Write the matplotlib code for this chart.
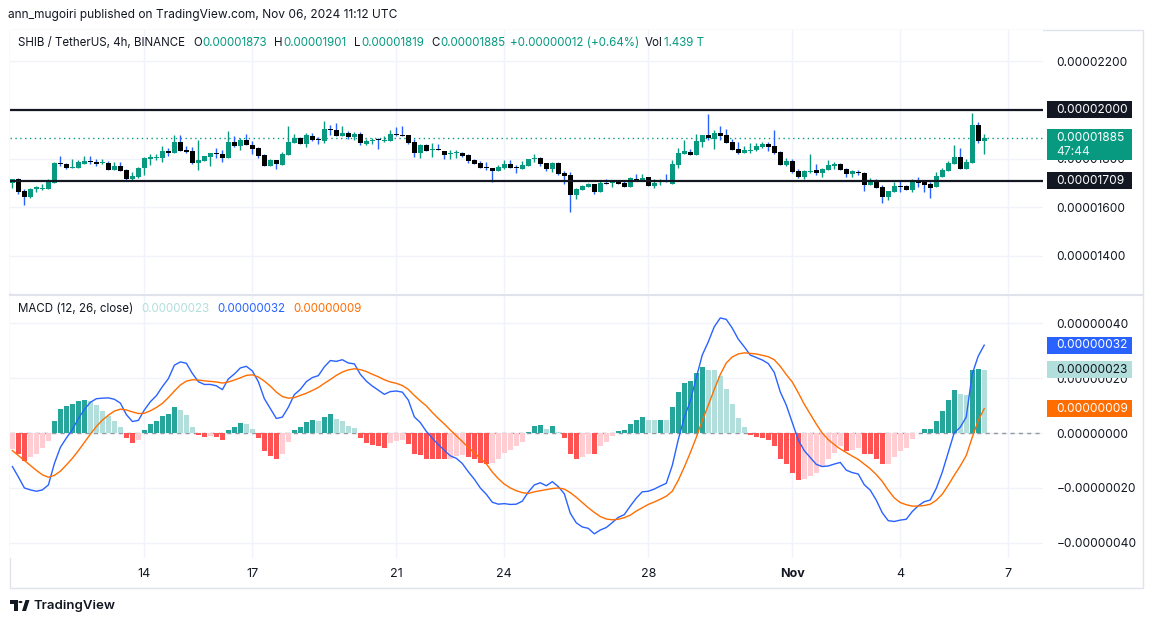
import numpy as np
import pandas as pd
import matplotlib
matplotlib.use('Agg')
import matplotlib.pyplot as plt
from matplotlib.patches import Rectangle, Polygon, Circle
from matplotlib.lines import Line2D
from matplotlib.ticker import FuncFormatter

plt.rcParams['font.family'] = ['Inter', 'DejaVu Sans']

W, H = 1154, 622
P = 1e-8  # all values below are in units of 1e-8 USDT

# SHIB / TetherUS 4h candles, first candle 2024-10-10 08:00
opens = [1701, 1715, 1667, 1644, 1676, 1675, 1676, 1701, 1783, 1778, 1763, 1763, 1779, 1790, 1786, 1781,
         1782, 1753, 1768, 1752, 1716, 1724, 1761, 1797, 1801, 1803, 1833, 1824, 1868, 1835, 1831, 1783,
         1790, 1808, 1824, 1819, 1804, 1868, 1853, 1876, 1855, 1844, 1815, 1771, 1794, 1774, 1815, 1866,
         1883, 1861, 1894, 1881, 1872, 1922, 1918, 1894, 1905, 1890, 1901, 1860, 1874, 1878, 1872, 1874,
         1901, 1897, 1897, 1868, 1824, 1856, 1835, 1838, 1831, 1819, 1822, 1823, 1815, 1794, 1782, 1765,
         1761, 1750, 1763, 1778, 1767, 1757, 1770, 1797, 1803, 1782, 1757, 1782, 1741, 1733, 1652, 1671,
         1683, 1696, 1664, 1700, 1701, 1705, 1700, 1685, 1715, 1709, 1723, 1689, 1702, 1708, 1696, 1775,
         1820, 1827, 1816, 1870, 1897, 1882, 1905, 1897, 1868, 1838, 1824, 1831, 1835, 1849, 1860, 1852,
         1827, 1774, 1790, 1749, 1723, 1746, 1753, 1742, 1753, 1770, 1778, 1757, 1738, 1746, 1741, 1692,
         1708, 1683, 1642, 1664, 1687, 1687, 1671, 1705, 1704, 1696, 1683, 1726, 1750, 1779, 1807, 1757,
         1783, 1938, 1873]
highs = [1716, 1719, 1675, 1678, 1689, 1694, 1715, 1787, 1811, 1783, 1797, 1794, 1811, 1811, 1797, 1797,
         1790, 1786, 1786, 1759, 1745, 1764, 1805, 1819, 1818, 1852, 1842, 1897, 1897, 1852, 1849, 1878,
         1811, 1823, 1845, 1835, 1913, 1893, 1883, 1901, 1872, 1849, 1819, 1797, 1794, 1827, 1934, 1900,
         1887, 1904, 1907, 1887, 1955, 1938, 1946, 1934, 1913, 1908, 1908, 1879, 1886, 1886, 1894, 1918,
         1931, 1934, 1897, 1881, 1860, 1860, 1863, 1860, 1831, 1834, 1835, 1829, 1818, 1797, 1792, 1787,
         1761, 1774, 1794, 1794, 1774, 1790, 1797, 1819, 1807, 1782, 1787, 1787, 1749, 1746, 1678, 1693,
         1701, 1696, 1708, 1716, 1712, 1712, 1707, 1723, 1737, 1737, 1723, 1716, 1716, 1737, 1794, 1842,
         1876, 1838, 1902, 1897, 1983, 1918, 1934, 1922, 1881, 1868, 1853, 1864, 1864, 1870, 1867, 1918,
         1830, 1801, 1797, 1757, 1755, 1819, 1778, 1763, 1794, 1787, 1782, 1763, 1753, 1753, 1745, 1719,
         1716, 1692, 1668, 1705, 1712, 1692, 1716, 1724, 1712, 1705, 1745, 1763, 1790, 1856, 1844, 1798,
         1987, 1950, 1901]
lows = [1681, 1653, 1607, 1639, 1664, 1671, 1676, 1701, 1771, 1757, 1763, 1763, 1779, 1778, 1771, 1779,
        1753, 1753, 1749, 1708, 1712, 1722, 1733, 1774, 1794, 1787, 1812, 1824, 1831, 1822, 1779, 1753,
        1790, 1770, 1801, 1786, 1804, 1849, 1835, 1856, 1819, 1801, 1770, 1771, 1757, 1774, 1815, 1866,
        1861, 1849, 1874, 1860, 1866, 1897, 1893, 1894, 1882, 1876, 1857, 1856, 1860, 1840, 1867, 1874,
        1892, 1894, 1859, 1808, 1804, 1833, 1808, 1834, 1798, 1797, 1804, 1808, 1783, 1779, 1763, 1753,
        1705, 1750, 1756, 1763, 1742, 1757, 1770, 1787, 1771, 1749, 1746, 1733, 1696, 1582, 1634, 1671,
        1683, 1655, 1664, 1697, 1683, 1697, 1685, 1685, 1708, 1709, 1689, 1681, 1693, 1702, 1696, 1761,
        1820, 1816, 1816, 1849, 1876, 1841, 1876, 1866, 1837, 1820, 1824, 1824, 1831, 1845, 1831, 1820,
        1774, 1770, 1741, 1722, 1718, 1739, 1733, 1724, 1753, 1756, 1755, 1726, 1726, 1733, 1668, 1692,
        1681, 1619, 1630, 1664, 1664, 1671, 1664, 1685, 1664, 1639, 1683, 1723, 1750, 1779, 1757, 1757,
        1783, 1863, 1819]
closes = [1715, 1664, 1644, 1675, 1682, 1679, 1704, 1783, 1779, 1763, 1767, 1786, 1790, 1787, 1779, 1783,
          1753, 1768, 1749, 1718, 1729, 1760, 1801, 1805, 1805, 1831, 1824, 1868, 1831, 1829, 1783, 1794,
          1811, 1823, 1818, 1804, 1868, 1853, 1876, 1856, 1841, 1812, 1770, 1794, 1778, 1819, 1868, 1883,
          1861, 1897, 1878, 1876, 1920, 1919, 1893, 1905, 1890, 1901, 1866, 1874, 1876, 1875, 1876, 1901,
          1898, 1894, 1866, 1824, 1856, 1833, 1840, 1834, 1816, 1823, 1826, 1812, 1792, 1779, 1763, 1763,
          1750, 1765, 1778, 1763, 1763, 1774, 1797, 1803, 1779, 1757, 1782, 1737, 1729, 1652, 1675, 1687,
          1696, 1664, 1700, 1697, 1705, 1697, 1685, 1720, 1711, 1720, 1689, 1700, 1708, 1702, 1778, 1823,
          1831, 1816, 1872, 1897, 1883, 1905, 1894, 1866, 1837, 1824, 1835, 1835, 1852, 1860, 1849, 1823,
          1774, 1790, 1745, 1726, 1749, 1750, 1742, 1759, 1774, 1778, 1755, 1738, 1748, 1742, 1692, 1709,
          1681, 1644, 1668, 1687, 1685, 1671, 1704, 1701, 1693, 1681, 1727, 1753, 1782, 1807, 1757, 1787,
          1938, 1873, 1885]

# MACD (12, 26, close): histogram and signal line
macd_hist = [-5.8, -7.8, -10.0, -8.9, -7.6, -5.5, -2.8, 4.3, 8.7, 9.8, 10.5, 11.7, 12.0, 11.6, 10.1, 8.0,
             6.3, 4.3, 2.2, -1.7, -3.5, -2.5, 1.2, 3.3, 4.3, 6.1, 6.9, 9.4, 8.4, 6.5, 2.3, -0.6,
             -1.3, -1.1, -1.4, -2.4, 1.1, 2.2, 3.6, 3.3, 1.4, -1.7, -6.4, -8.2, -9.6, -7.5, -3.3, 1.1,
             2.2, 4.2, 4.7, 4.3, 6.0, 6.9, 5.1, 4.5, 2.5, 1.8, -1.7, -3.5, -4.3, -4.9, -5.3, -3.5,
             -2.8, -2.4, -3.9, -7.8, -7.9, -9.3, -9.4, -9.5, -9.6, -9.4, -8.2, -8.0, -8.9, -9.6, -10.8, -11.1,
             -11.0, -9.3, -7.1, -6.0, -4.9, -3.1, 0.5, 2.5, 2.9, 1.4, 2.5, 0.5, -1.7, -7.5, -9.3, -8.9,
             -7.5, -7.8, -4.9, -3.1, -1.0, 0.7, 1.1, 3.3, 4.7, 5.8, 4.8, 4.7, 4.8, 4.7, 9.4, 14.8,
             18.1, 18.8, 21.7, 23.9, 23.1, 22.8, 20.6, 15.9, 10.5, 5.4, 2.2, -0.6, -1.3, -1.7, -2.5, -4.6,
             -9.3, -11.1, -14.7, -17.2, -16.9, -15.8, -14.7, -12.2, -9.6, -7.1, -4.9, -6.4, -6.0, -5.3, -7.5, -7.8,
             -9.3, -11.4, -11.1, -8.6, -6.4, -5.3, -2.0, 0.1, 1.4, 1.5, 4.3, 8.0, 11.9, 15.5, 14.1, 14.0,
             23.1, 23.5, 23.1]
macd_signal = [-6.4, -8.2, -10.0, -11.8, -13.6, -15.2, -16.1, -15.4, -13.9, -11.6, -9.2, -6.4, -3.4, -0.4, 2.4, 4.7,
               6.5, 8.0, 8.7, 8.4, 7.7, 7.1, 7.2, 8.1, 9.3, 10.8, 12.9, 15.3, 17.5, 18.9, 19.4, 19.3,
               19.0, 18.8, 18.6, 18.2, 18.6, 19.3, 20.1, 21.0, 21.2, 20.4, 18.9, 17.1, 14.9, 13.3, 12.7, 12.9,
               13.7, 14.5, 15.5, 16.6, 18.1, 19.5, 21.0, 22.2, 23.0, 23.4, 23.1, 22.4, 21.4, 20.5, 19.4, 18.6,
               18.1, 17.3, 15.9, 13.7, 11.7, 9.9, 7.5, 5.3, 3.3, 1.1, -1.0, -3.1, -5.2, -7.2, -9.2, -11.2,
               -14.2, -16.6, -18.6, -20.0, -21.0, -21.7, -22.0, -21.4, -21.0, -20.6, -20.2, -20.0, -20.4, -21.7, -23.4, -25.3,
               -27.2, -28.9, -30.4, -31.3, -31.6, -31.4, -30.8, -29.9, -28.4, -27.2, -26.0, -25.1, -24.1, -23.0, -21.2, -17.2,
               -12.4, -7.2, -1.6, 4.5, 10.1, 15.9, 21.3, 25.5, 27.7, 28.8, 29.2, 29.0, 28.8, 28.3, 27.8, 26.7,
               24.3, 21.3, 18.6, 14.7, 10.5, 6.9, 3.3, 0.0, -2.4, -4.2, -5.8, -7.1, -8.4, -9.6, -11.3, -13.0,
               -15.1, -17.6, -20.8, -23.6, -25.3, -26.1, -26.6, -26.6, -26.4, -25.9, -24.5, -22.3, -19.0, -15.4, -12.0, -8.2,
               -1.6, 4.5, 8.9]

# horizontal levels drawn on the chart
levels = [2000, 1709]
volume_label = '1.439 T'
countdown = '47:44'

tick_days = ['2024-10-14', '2024-10-17', '2024-10-21', '2024-10-24', '2024-10-28', '2024-11-01', '2024-11-04', '2024-11-07']
tick_names = ['14', '17', '21', '24', '28', 'Nov', '4', '7']

DARK = '#131722'
GREEN = '#089981'
BLUE = '#2962ff'
ORANGE = '#ff6d00'
GRID = '#f0f3fa'
FRAME = '#e0e3eb'
FS = 8.6   # price scale font size
LFS = 8.3  # legend font size

o = np.array(opens) * P
h = np.array(highs) * P
l = np.array(lows) * P
c = np.array(closes) * P
hist = np.array(macd_hist) * P
signal = np.array(macd_signal) * P
macd = signal + hist

n = len(o)
times = pd.date_range('2024-10-10 08:00', periods=n, freq='4h')
x = np.arange(n)
tick_pos = [(pd.Timestamp(d) - times[0]) / pd.Timedelta('4h') for d in tick_days]

fig = plt.figure(figsize=(W / 100, H / 100), dpi=100)
fig.patch.set_facecolor('white')

ax1 = fig.add_axes([10 / W, 1 - 293 / H, 1033 / W, 263 / H])
ax2 = fig.add_axes([10 / W, 1 - 558 / H, 1033 / W, 262 / H])

for ax in (ax1, ax2):
    for s in ax.spines.values():
        s.set_visible(False)
    ax.set_xlim(-0.4, 171.8)
    ax.set_xticks(tick_pos)
    ax.grid(True, color=GRID, lw=1)
    ax.set_axisbelow(True)
    ax.yaxis.tick_right()
    ax.tick_params(axis='y', length=0, pad=9.6, labelsize=FS, labelcolor=DARK)
    ax.tick_params(axis='x', length=0)

# ---- price pane
ax1.set_ylim(1247 * P, 2329 * P)
ax1.set_yticks(np.array([1400, 1600, 1800, 2000, 2200]) * P)
ax1.yaxis.set_major_formatter(FuncFormatter(lambda v, _: f'{v:.8f}'))
ax1.tick_params(axis='x', labelbottom=False)

up = c >= o
body_col = np.where(up, GREEN, '#000000')
wick_col = np.where(up, GREEN, BLUE)
ax1.vlines(x, l, h, colors=wick_col, lw=1, zorder=3)
ax1.bar(x, np.maximum(np.abs(c - o), 4 * P), bottom=np.minimum(o, c), width=0.8,
        color=body_col, lw=0, zorder=4)

for lv in levels:
    ax1.axhline(lv * P, color=DARK, lw=1.6, zorder=5)
ax1.axhline(c[-1], color=GREEN, lw=1, ls=(0, (1, 2.5)), zorder=2)

# ---- MACD pane
ax2.set_ylim(-45.5 * P, 49.9 * P)
ax2.set_yticks(np.array([-40, -20, 0, 20, 40]) * P)
ax2.yaxis.set_major_formatter(FuncFormatter(lambda v, _: f'{v:.8f}'.replace('-', '\u2212')))
ax2.set_xticklabels(tick_names)
ax2.tick_params(axis='x', pad=7, labelsize=9, labelcolor=DARK)
for t in ax2.get_xticklabels():
    if t.get_text() == 'Nov':
        t.set_fontweight('bold')

prev = np.concatenate([[hist[0] - 1], hist[:-1]])
hist_col = np.where(hist >= 0, np.where(hist > prev, '#26a69a', '#b2dfdb'),
                    np.where(hist < prev, '#ff5252', '#ffcdd2'))
ax2.bar(x, hist, width=0.8, color=hist_col, lw=0, zorder=2)
ax2.axhline(0, color='#9598a1', lw=1, ls=(0, (3, 3)), zorder=1)
ax2.plot(x, macd, color=BLUE, lw=1, zorder=3)
ax2.plot(x, signal, color=ORANGE, lw=1, zorder=3)


# ---- price scale tags
def tag(ax, val, text, fc, tc, top=8.5, hgt=17):
    yd = ax.transData.transform((0, val))[1]
    fig.add_artist(Rectangle((1046.5 / W, (yd + top - hgt) / H), 85 / W, hgt / H,
                             transform=fig.transFigure, fc=fc, ec='none', zorder=5))
    fig.text(1056 / W, yd / H, text, color=tc, fontsize=FS, va='center', ha='left', zorder=6)
    return yd


for lv in levels:
    tag(ax1, lv * P, f'{lv * P:.8f}', DARK, 'white')
yd = tag(ax1, c[-1], f'{c[-1]:.8f}', GREEN, 'white', top=8.5, hgt=31)
fig.text(1056 / W, (yd - 14) / H, countdown, color='#e8f5f2', fontsize=FS, va='center', ha='left', zorder=6)

tag(ax2, macd[-1], f'{macd[-1]:.8f}', BLUE, 'white')
tag(ax2, hist[-1], f'{hist[-1]:.8f}', '#b2dfdb', DARK)
tag(ax2, signal[-1], f'{signal[-1]:.8f}', ORANGE, 'white')

# ---- frame
fig.add_artist(Rectangle((10 / W, 1 - 588 / H), 1133 / W, 558 / H, transform=fig.transFigure,
                         fill=False, ec=FRAME, lw=1, zorder=0))
fig.add_artist(Line2D([10 / W, 1143 / W], [1 - 294.5 / H] * 2, color=FRAME, lw=1.5,
                      transform=fig.transFigure))

# ---- header texts
fig.text(8 / W, 1 - 15 / H, 'ann_mugoiri published on TradingView.com, Nov 06, 2024 11:12 UTC',
         fontsize=8.6, va='center', color=DARK)

renderer = fig.canvas.get_renderer()


def legend_row(x0, y_img, pieces, fs=LFS):
    xp = x0
    for txt, col, gap in pieces:
        t = fig.text(xp / W, 1 - y_img / H, txt, color=col, fontsize=fs, va='center', ha='left')
        xp += t.get_window_extent(renderer).width + gap


chg = c[-1] - o[-1]
legend_row(18, 43, [
    ('SHIB / TetherUS, 4h, BINANCE', DARK, 8),
    ('O', DARK, 1), (f'{o[-1]:.8f}', GREEN, 7),
    ('H', DARK, 1), (f'{h[-1]:.8f}', GREEN, 7),
    ('L', DARK, 1), (f'{l[-1]:.8f}', GREEN, 7),
    ('C', DARK, 1), (f'{c[-1]:.8f}', GREEN, 4),
    (f'+{chg:.8f} (+{chg / o[-1] * 100:.2f}%)', GREEN, 6),
    ('Vol', DARK, 1), (volume_label, GREEN, 0),
])
legend_row(18, 309, [
    ('MACD (12, 26, close)', DARK, 8),
    (f'{hist[-1]:.8f}', '#b2dfdb', 8),
    (f'{macd[-1]:.8f}', BLUE, 8),
    (f'{signal[-1]:.8f}', ORANGE, 0),
])

# ---- TradingView logo
tf = fig.transFigure
def pf(px, py):
    return (px / W, 1 - py / H)
fig.add_artist(Polygon([pf(10, 600), pf(18, 600), pf(18, 611), pf(14, 611), pf(14, 604), pf(10, 604)],
                       closed=True, transform=tf, fc=DARK, ec='none'))
fig.add_artist(Circle(pf(20.5, 602), 2.0 / W, transform=tf, fc=DARK, ec='none'))
fig.add_artist(Polygon([pf(22, 611), pf(25.5, 600), pf(29.5, 600), pf(26, 611)],
                       closed=True, transform=tf, fc=DARK, ec='none'))
fig.text(33 / W, 1 - 605.5 / H, 'TradingView', fontsize=9.5, fontweight='semibold', color=DARK, va='center')

fig.savefig('out.png', dpi=100, facecolor='white')
